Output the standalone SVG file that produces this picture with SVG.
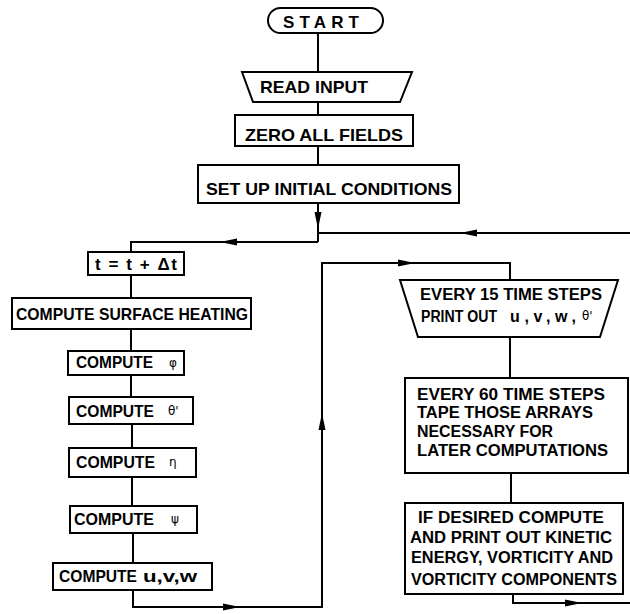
<svg xmlns="http://www.w3.org/2000/svg" width="630" height="614" viewBox="0 0 630 614">
<style>
.box{fill:#fff;stroke:#000;stroke-width:2}
.ln{fill:none;stroke:#000;stroke-width:2}
.t{font-family:"Liberation Sans",Arial,sans-serif;font-weight:bold;font-size:17px;fill:#000}
.r{font-size:16px}
.g{font-family:"DejaVu Sans","Liberation Sans",sans-serif;font-weight:normal;font-size:12px}
</style>
<defs>
<marker id="ah" markerUnits="userSpaceOnUse" markerWidth="18" markerHeight="10" refX="17" refY="4" orient="auto">
<path d="M0,0.5 L17,4 L0,7.5 z" fill="#000"/>
</marker>
</defs>
<rect width="630" height="614" fill="#fff"/>
<g id="connectors">
<path class="ln" d="M318,33 V72"/>
<path class="ln" d="M318,102 V115"/>
<path class="ln" d="M318,146 V165"/>
<path class="ln" d="M318,203 V229" marker-end="url(#ah)"/>
<path class="ln" d="M318,228 V242"/>
<path class="ln" d="M630,233 H460" marker-end="url(#ah)"/>
<path class="ln" d="M461,233 H318"/>
<path class="ln" d="M318,242 H220" marker-end="url(#ah)"/>
<path class="ln" d="M221,242 H131 V252"/>
<path class="ln" d="M131,275 V298"/>
<path class="ln" d="M131,329 V351"/>
<path class="ln" d="M131,375 V397"/>
<path class="ln" d="M132,424 V448"/>
<path class="ln" d="M132,477 V506"/>
<path class="ln" d="M133,533 V563"/>
<path class="ln" d="M133,590 V607 H240" marker-end="url(#ah)"/>
<path class="ln" d="M239,607 H322 V413" marker-end="url(#ah)"/>
<path class="ln" d="M322,414 V263 H415" marker-end="url(#ah)"/>
<path class="ln" d="M414,263 H510 V280"/>
<path class="ln" d="M510,337 V378"/>
<path class="ln" d="M511,473 V503"/>
<path class="ln" d="M513,594 V603 H582" marker-end="url(#ah)"/>
<path class="ln" d="M581,603 H630"/>
</g>
<g id="start">
<rect class="box" x="268" y="8" width="115" height="25" rx="12.5"/>
<text class="t" x="283" y="28" textLength="76" lengthAdjust="spacing">START</text>
</g>
<g id="read-input">
<polygon class="box" points="242,72 412,72 400,102 253,102"/>
<text class="t" x="260" y="93" textLength="108" lengthAdjust="spacingAndGlyphs">READ  INPUT</text>
</g>
<g id="zero-all-fields">
<rect class="box" x="235" y="115" width="178" height="31"/>
<text class="t" x="245" y="141" textLength="158" lengthAdjust="spacingAndGlyphs">ZERO ALL FIELDS</text>
</g>
<g id="set-up">
<rect class="box" x="198" y="165" width="261" height="38"/>
<text class="t" x="206" y="195" textLength="246" lengthAdjust="spacingAndGlyphs">SET UP INITIAL  CONDITIONS</text>
</g>
<g id="time-step">
<rect class="box" x="88" y="252" width="96" height="23"/>
<text class="t" x="95" y="270" textLength="82" lengthAdjust="spacing">t = t + Δt</text>
</g>
<g id="surface-heating">
<rect class="box" x="12" y="298" width="239" height="31"/>
<text class="t" x="16" y="320" textLength="232" lengthAdjust="spacingAndGlyphs">COMPUTE SURFACE HEATING</text>
</g>
<g id="compute-phi">
<rect class="box" x="68" y="351" width="116" height="24"/>
<text class="t" x="76" y="368" textLength="77" lengthAdjust="spacingAndGlyphs">COMPUTE</text>
<text class="t g" x="169" y="367">φ</text>
</g>
<g id="compute-theta">
<rect class="box" x="69" y="397" width="124" height="27"/>
<text class="t" x="76" y="417" textLength="78" lengthAdjust="spacingAndGlyphs">COMPUTE</text>
<text class="t g" x="168" y="415">θ'</text>
</g>
<g id="compute-eta">
<rect class="box" x="69" y="448" width="127" height="29"/>
<text class="t" x="76" y="468" textLength="79" lengthAdjust="spacingAndGlyphs">COMPUTE</text>
<text class="t g" x="169" y="466">η</text>
</g>
<g id="compute-psi">
<rect class="box" x="70" y="506" width="127" height="27"/>
<text class="t" x="74" y="525" textLength="80" lengthAdjust="spacingAndGlyphs">COMPUTE</text>
<text class="t g" x="171" y="523">ψ</text>
</g>
<g id="compute-uvw">
<rect class="box" x="53" y="563" width="159" height="27"/>
<text class="t" x="59" y="582" textLength="78" lengthAdjust="spacingAndGlyphs">COMPUTE</text>
<text class="t" x="143" y="582" textLength="54" lengthAdjust="spacingAndGlyphs">u,v,w</text>
</g>
<g id="print-out">
<polygon class="box" points="400,280 618,280 600,337 418,337"/>
<text class="t r" x="420" y="300" textLength="182" lengthAdjust="spacingAndGlyphs">EVERY 15 TIME  STEPS</text>
<text class="t r" x="421" y="322" textLength="76" lengthAdjust="spacingAndGlyphs">PRINT  OUT</text>
<text class="t r" x="510" y="322" textLength="66" lengthAdjust="spacing">u,v,w,</text>
<text class="t g" x="582" y="320">θ'</text>
</g>
<g id="tape-arrays">
<rect class="box" x="405" y="378" width="223" height="95"/>
<text class="t r" x="417" y="400" textLength="188" lengthAdjust="spacingAndGlyphs">EVERY 60 TIME  STEPS</text>
<text class="t r" x="417" y="418" textLength="176" lengthAdjust="spacingAndGlyphs">TAPE  THOSE  ARRAYS</text>
<text class="t r" x="417" y="437" textLength="136" lengthAdjust="spacingAndGlyphs">NECESSARY  FOR</text>
<text class="t r" x="417" y="456" textLength="191" lengthAdjust="spacingAndGlyphs">LATER COMPUTATIONS</text>
</g>
<g id="kinetic-energy">
<rect class="box" x="405" y="503" width="218" height="91"/>
<text class="t r" x="418" y="523" textLength="186" lengthAdjust="spacingAndGlyphs">IF  DESIRED COMPUTE</text>
<text class="t r" x="410" y="543" textLength="202" lengthAdjust="spacingAndGlyphs">AND PRINT  OUT KINETIC</text>
<text class="t r" x="411" y="563" textLength="202" lengthAdjust="spacingAndGlyphs">ENERGY, VORTICITY  AND</text>
<text class="t r" x="411" y="585" textLength="206" lengthAdjust="spacingAndGlyphs">VORTICITY COMPONENTS</text>
</g>
</svg>
